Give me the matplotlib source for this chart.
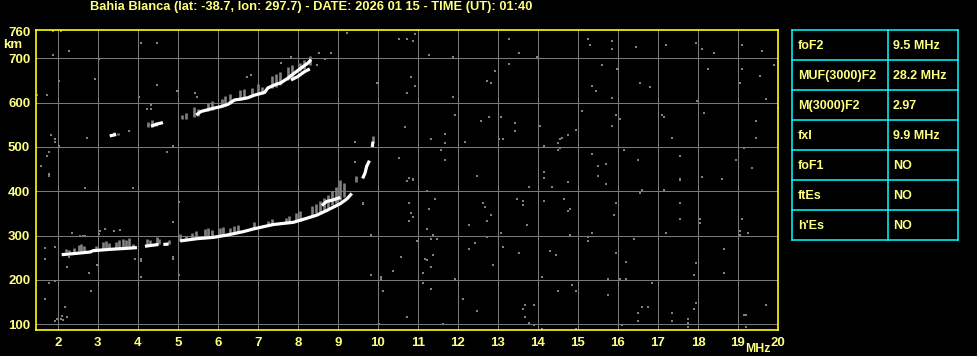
#!/usr/bin/env python3
"""
Ionogram plot - Bahia Blanca, 2026-01-15 01:40 UT
"""

import numpy as np
import matplotlib
matplotlib.use("Agg")
import matplotlib.pyplot as plt

# ---- chart data ----
title = "Bahia Blanca (lat: -38.7, lon: 297.7) - DATE: 2026 01 15 - TIME (UT): 01:40"

freq_ticks = list(range(2, 21))
height_ticks = [100, 200, 300, 400, 500, 600, 700, 760]
grid_heights = [100, 200, 300, 400, 500, 600, 700]

# first hop trace (strong echoes), NaN = gap
trace1_f = [2.10, 2.48, 2.81, 2.89, 3.31, 3.85, 3.98, np.nan, 4.18, 4.35, 4.52, np.nan,
            4.64, 4.77, np.nan, 5.06, 5.48, 5.89, 6.22, 6.64, 6.89, 7.39, 7.89, 8.22,
            8.47, 8.73, 9.06, 9.23, 9.35]
trace1_h = [257, 260, 263, 266, 269, 272, 273, np.nan, 276, 278, 280, np.nan,
            280, 281, np.nan, 288, 293, 296, 301, 309, 315, 325, 330, 339,
            346, 357, 372, 383, 395]

# upper branch near foF2
branch_f = [8.60, 8.72, 8.90, 9.06]
branch_h = [368, 377, 381, 386]

# steep trace close to fxI
steep_f = [9.62, 9.68, 9.72, 9.79, np.nan, 9.86, 9.88]
steep_h = [429, 441, 456, 469, np.nan, 500, 512]

# second hop trace
trace2_f = [3.30, 3.46, np.nan, 4.33, 4.46, 4.63, np.nan, 5.46, 5.58, 5.71, 5.88,
            6.08, 6.25, 6.42, 6.58, 6.75, 6.92, 7.17, 7.25, 7.42, 7.58, 7.75, 7.92,
            8.08, 8.25, 8.33]
trace2_h = [525, 528, np.nan, 547, 551, 555, np.nan, 572, 580, 583, 587,
            591, 596, 606, 608, 611, 617, 623, 633, 640, 645, 655, 667,
            678, 689, 697]
trace2b_f = [7.83, 8.00, 8.17, 8.30]
trace2b_h = [651, 659, 670, 676]

# weaker spread echoes (vertical stalks): freq, low, high
stalk_f = [2.20, 2.28, 2.40, 2.52, 2.58, 2.66, 2.95, 3.12, 3.20, 3.28, 3.45, 3.52,
           3.62, 3.70, 3.78, 3.88, 4.22, 4.30, 4.48, 4.52, 4.78, 5.05, 5.20, 5.35,
           5.45, 5.68, 5.75, 5.85, 6.05, 6.12, 6.30, 6.40, 6.50, 6.90, 7.25, 7.35,
           7.70, 7.78, 7.95, 8.05, 8.35, 8.45, 8.55, 8.65, 8.75, 8.85, 8.95, 9.05,
           9.15, 9.45,
           3.40, 3.50, 4.25, 4.35, 4.45, 5.10, 5.20, 5.40, 5.50, 5.75, 5.85, 6.10,
           6.18, 6.30, 6.55, 6.65, 6.85, 7.00, 7.10, 7.35, 7.45, 7.55, 7.75, 7.85,
           8.05, 8.15, 8.30, 9.87]
stalk_lo = [262, 262, 264, 266, 266, 266, 268, 270, 270, 270, 272, 272,
            274, 274, 274, 274, 278, 278, 282, 282, 282, 288, 290, 292,
            294, 298, 298, 298, 300, 302, 304, 306, 308, 318, 322, 324,
            328, 328, 332, 334, 346, 350, 354, 358, 362, 368, 374, 380,
            388, 420,
            526, 526, 544, 546, 548, 562, 562, 568, 570, 582, 584, 594,
            594, 598, 606, 608, 614, 618, 620, 632, 636, 640, 650, 656,
            672, 676, 686, 512]
stalk_hi = [270, 268, 272, 278, 280, 276, 276, 286, 288, 284, 286, 290,
            292, 290, 294, 282, 292, 290, 296, 292, 290, 304, 300, 306,
            310, 314, 318, 312, 318, 320, 318, 322, 324, 330, 334, 338,
            340, 344, 350, 356, 366, 372, 378, 384, 392, 400, 410, 426,
            418, 434,
            534, 532, 556, 560, 556, 572, 576, 590, 585, 600, 604, 608,
            614, 620, 628, 630, 634, 642, 636, 660, 664, 668, 680, 684,
            690, 696, 706, 525]

# scattered noise dots
noise_f = [10.54, 10.74, 10.93, 10.89, 10.98, 11.29, 11.89, 13.29, 13.54, 13.98, 15.24, 15.29,
           15.84, 15.84, 16.44, 17.19, 17.94, 18.09, 18.39, 19.09, 19.59, 19.89, 19.54, 19.09,
           18.24, 19.04, 19.69, 17.98, 16.79, 16.54, 15.84, 15.44, 15.34, 15.59, 15.98, 13.29,
           12.94, 12.74, 12.84, 11.89, 10.94, 10.84, 10.74, 9.98, 11.94, 12.59, 12.79, 13.09,
           13.44, 13.44, 13.04, 13.14, 14.04, 11.69, 11.34, 11.69, 11.59, 10.69, 12.19, 10.54,
           11.69, 10.79, 10.89, 12.49, 14.14, 14.49, 14.54, 14.59, 14.74, 14.94, 15.09, 14.49,
           14.54, 14.14, 14.14, 15.34, 15.49, 15.69, 15.49, 15.94, 16.04, 15.84, 16.14, 16.49,
           17.09, 17.14, 17.34, 17.54, 17.54, 18.14, 18.09, 18.59, 18.94, 19.34, 19.44, 19.44,
           19.14, 19.99,
           10.74, 10.89, 9.64, 10.79, 11.44, 11.29, 10.84, 10.89, 10.79, 11.24, 11.39, 11.34,
           11.49, 10.99, 9.84, 11.24, 12.64, 12.69, 12.84, 12.74, 12.29, 12.74, 12.44, 12.29,
           11.39, 10.59, 11.19, 11.24, 11.34, 11.14, 10.39, 9.84, 10.09, 10.09, 10.14, 11.14,
           11.34, 10.74, 10.04, 11.64, 11.94, 12.14, 12.49, 12.89, 13.14, 13.09, 13.54, 13.49,
           13.64, 13.64, 13.79, 13.74, 14.14, 14.34, 14.64, 14.79, 14.74, 14.74, 14.79, 14.29,
           14.44, 14.09, 14.84, 14.94, 14.49, 13.69, 13.89, 13.64, 13.69, 13.79, 13.89, 14.09,
           14.94, 15.69, 15.94, 15.89, 15.34, 15.24, 15.24, 15.94, 15.74, 16.04, 16.19, 16.19,
           15.74, 16.09, 16.59, 16.54, 17.14, 16.39, 16.84, 16.59, 16.74, 16.49, 16.49, 17.34,
           17.34, 17.54, 17.54, 17.54, 17.19, 18.04, 18.04, 17.94, 17.89, 17.94, 17.89, 17.74,
           17.74, 17.74, 18.59, 19.09, 19.04, 19.04, 19.24, 18.64, 18.64, 19.69, 19.14, 19.19,
           19.19,
           1.89, 2.09, 2.29, 1.89, 3.03, 2.94, 2.04, 1.49, 1.74, 4.09, 4.49, 4.49,
           4.04, 4.99, 5.44, 5.49, 4.34, 4.24, 4.34, 3.79, 2.74, 1.84, 1.94, 1.94,
           2.04, 1.79, 1.74, 1.59, 1.79, 1.79, 4.89, 4.74, 2.69, 3.89, 5.04, 4.89,
           6.74, 6.84, 7.59, 7.84, 8.54, 8.69, 8.82, 8.49, 9.24, 9.44, 9.44, 9.64,
           1.68, 1.68, 1.93, 1.78, 1.93, 1.68, 2.18, 2.23, 2.08, 2.11, 1.93, 1.98,
           2.13, 2.23, 2.28, 2.78, 2.83, 2.98, 3.94, 4.08, 4.08, 4.08, 4.88, 4.88,
           5.03, 2.55, 2.62, 2.68, 3.02, 3.05, 2.35, 3.40, 3.55, 3.18]
noise_h = [744, 744, 754, 739, 763, 708, 703, 744, 712, 703, 744, 730,
           739, 721, 726, 730, 735, 721, 712, 730, 717, 685, 660, 676,
           676, 644, 608, 603, 635, 644, 610, 626, 637, 685, 676, 688,
           671, 648, 644, 612, 637, 658, 621, 644, 571, 558, 567, 567,
           553, 535, 517, 517, 548, 530, 517, 508, 494, 544, 512, 476,
           471, 430, 426, 435, 503, 510, 519, 521, 526, 539, 580, 494,
           498, 444, 430, 485, 458, 462, 435, 571, 562, 548, 494, 471,
           571, 567, 521, 480, 426, 576, 433, 428, 471, 453, 558, 521,
           498, 589,
           423, 427, 373, 373, 382, 360, 351, 342, 332, 314, 301, 292,
           292, 288, 301, 400, 373, 364, 346, 332, 323, 296, 283, 269,
           256, 251, 247, 245, 229, 215, 220, 211, 206, 202, 175, 193,
           179, 116, 100, 100, 202, 157, 130, 233, 274, 305, 260, 382,
           377, 368, 409, 323, 377, 409, 382, 360, 355, 422, 301, 265,
           256, 206, 188, 175, 175, 143, 143, 134, 116, 103, 98, 90,
           90, 416, 373, 346, 305, 287, 296, 260, 202, 202, 202, 240,
           166, 98, 404, 395, 404, 292, 193, 139, 139, 125, 107, 125,
           107, 427, 373, 337, 305, 337, 328, 238, 211, 148, 134, 112,
           103, 94, 427, 337, 310, 301, 305, 269, 215, 143, 121, 121,
           94,
           762, 762, 717, 708, 698, 653, 648, 617, 617, 735, 735, 639,
           612, 626, 621, 612, 594, 585, 585, 535, 521, 526, 517, 512,
           503, 489, 480, 458, 439, 435, 503, 489, 408, 408, 376, 330,
           658, 662, 689, 703, 712, 698, 712, 685, 758, 512, 467, 371,
           271, 248, 275, 194, 198, 157, 139, 117, 112, 119, 108, 112,
           110, 230, 252, 216, 175, 234, 248, 248, 243, 207, 252, 248,
           212, 298, 298, 298, 304, 310, 305, 310, 312, 316]

# ionospheric parameters table
param_names = ["foF2", "MUF(3000)F2", "M(3000)F2", "fxI", "foF1", "ftEs", "h'Es"]
param_values = ["9.5 MHz", "28.2 MHz", "2.97", "9.9 MHz", "NO", "NO", "NO"]

YELLOW_TXT = "#FFFF80"
FONT = "Liberation Sans"


def draw_ionogram(fig):
    ax = fig.add_axes([35.7 / 978, 26 / 356, 742.3 / 978, 300.5 / 356])
    ax.set_facecolor("black")
    ax.set_xlim(1.45, 20)
    ax.set_ylim(87, 765)

    # grid
    for f in freq_ticks[:-1]:
        ax.axvline(f, color="#7a7a7a", lw=0.75, zorder=1)
    for h in grid_heights:
        ax.axhline(h, color="#7a7a7a", lw=0.75, zorder=1)

    # noise and weak echoes
    ax.scatter(noise_f, noise_h, marker="s", s=3.0, c="#808080", linewidths=0, zorder=2)
    ax.vlines(stalk_f, stalk_lo, stalk_hi, colors="#808080", lw=1.9, zorder=2)

    # strong echoes
    for fx, hy in [(trace1_f, trace1_h), (branch_f, branch_h), (steep_f, steep_h),
                   (trace2_f, trace2_h), (trace2b_f, trace2b_h)]:
        ax.plot(fx, hy, color="white", lw=2.3, solid_capstyle="butt", zorder=3)

    for s in ax.spines.values():
        s.set_color("yellow")
        s.set_linewidth(1.2)

    ax.set_xticks(freq_ticks)
    ax.set_yticks(height_ticks)
    ax.set_xticklabels([str(f) for f in freq_ticks])
    ax.set_yticklabels([str(h) for h in height_ticks])
    ax.tick_params(length=0, colors=YELLOW_TXT, labelsize=9.5, pad=4)
    for lab in ax.get_xticklabels() + ax.get_yticklabels():
        lab.set_fontweight("bold")
        lab.set_family(FONT)
    ax.tick_params(axis="x", pad=5)

    fig.text(13 / 978, 1 - 45 / 356, "km", color=YELLOW_TXT, fontsize=9.5,
             fontweight="bold", family=FONT, ha="center", va="center")
    fig.text(757.5 / 978, 1 - 349.5 / 356, "MHz", color=YELLOW_TXT, fontsize=8.8,
             fontweight="bold", family=FONT, ha="center", va="center")
    return ax


def draw_table(fig):
    tx = fig.add_axes([792.3 / 978, (356 - 240.3) / 356, 165.4 / 978, 210 / 356])
    tx.set_xlim(0, 1)
    tx.set_ylim(len(param_names), 0)
    tx.axis("off")
    split = (887.7 - 792.3) / 165.4
    n = len(param_names)
    for i in range(n + 1):
        tx.plot([0, 1], [i, i], color="#00FFFF", lw=1.1, clip_on=False)
    for x in [0, split, 1]:
        tx.plot([x, x], [0, n], color="#00FFFF", lw=1.1, clip_on=False)
    for i, (name, val) in enumerate(zip(param_names, param_values)):
        tx.text(0.035, i + 0.52, name, color=YELLOW_TXT, fontsize=9, fontweight="bold",
                family=FONT, va="center", ha="left")
        tx.text(split + 0.03, i + 0.52, val, color=YELLOW_TXT, fontsize=9, fontweight="bold",
                family=FONT, va="center", ha="left")


def main():
    fig = plt.figure(figsize=(9.78, 3.56), dpi=100, facecolor="black")
    draw_ionogram(fig)
    draw_table(fig)
    fig.text(90 / 978, 1 - 7 / 356, title, color=YELLOW_TXT, fontsize=9.3,
             fontweight="bold", family=FONT, ha="left", va="center")
    fig.savefig("out.png", dpi=100, facecolor="black")


if __name__ == "__main__":
    main()
